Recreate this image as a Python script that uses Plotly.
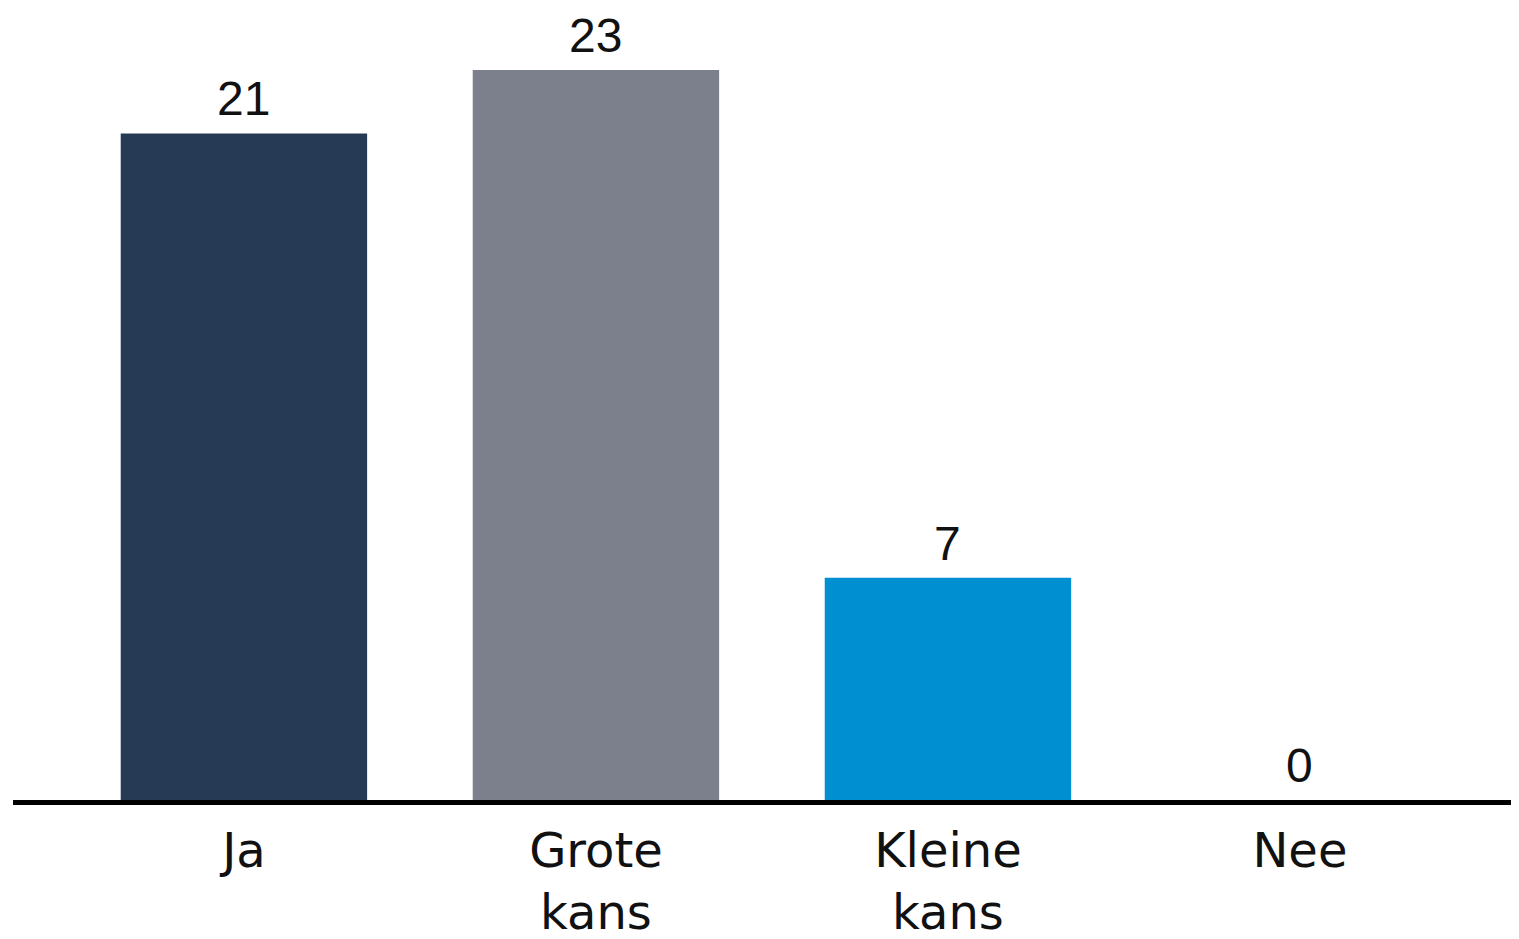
import plotly.graph_objects as go

categories = ["Ja", "Grote<br>kans", "Kleine<br>kans", "Nee"]
values = [21, 23, 7, 0]
colors = ["#263a56", "#7b808c", "#008fd0", "#008fd0"]

fig = go.Figure()
fig.add_trace(go.Bar(
    x=list(range(len(categories))),
    y=values,
    marker=dict(color=colors, line=dict(width=0)),
    width=0.7,
    hoverinfo="skip",
))

for i, v in enumerate(values):
    fig.add_annotation(
        x=i, y=v, text=str(v), showarrow=False,
        yanchor="bottom", yshift=7, borderpad=0,
        font=dict(family="Liberation Sans, Arial", size=48, color="#111111"),
    )

fig.update_layout(
    width=1519, height=939,
    margin=dict(l=5, r=0, t=0, b=147),
    paper_bgcolor="white", plot_bgcolor="white",
    showlegend=False,
    xaxis=dict(
        range=[-0.656, 3.645],
        tickmode="array",
        tickvals=list(range(len(categories))),
        ticktext=categories,
        showgrid=False, zeroline=False,
        showline=True, linecolor="black", linewidth=5,
        ticks="", ticklabelstandoff=4,
        tickfont=dict(family="DejaVu Sans, sans-serif", size=48, color="#111111"),
    ),
    yaxis=dict(
        range=[0, 24.95],
        visible=False, showgrid=False, zeroline=False,
    ),
)

fig.write_html("out.html")
